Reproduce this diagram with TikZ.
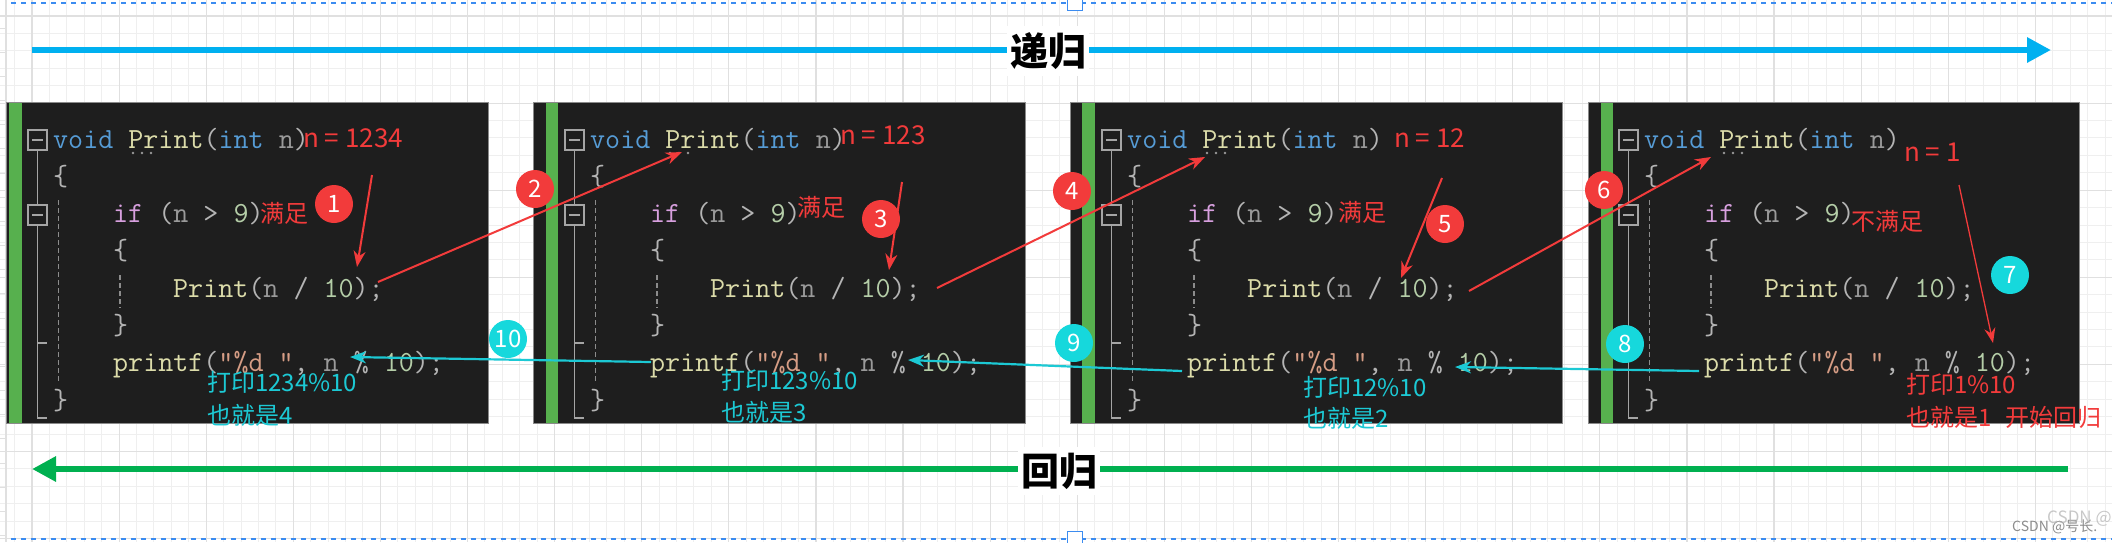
\documentclass[tikz,border=0pt]{standalone}
\usepackage{fontspec}
\newfontfamily\cjk{Noto Sans CJK SC}
\usetikzlibrary{arrows.meta,calc}
\definecolor{vsbg}{HTML}{1E1E1E}
\definecolor{paneledge}{HTML}{8A8A8A}
\definecolor{vsgreen}{HTML}{57B04E}
\definecolor{foldgray}{HTML}{A5A5A5}
\definecolor{guidegray}{HTML}{8C8C8C}
\definecolor{ckwc}{HTML}{569CD6}
\definecolor{cfnc}{HTML}{DCDCAA}
\definecolor{cpuc}{HTML}{B4B4B4}
\definecolor{cpac}{HTML}{9A9A9A}
\definecolor{cctc}{HTML}{D8A0DF}
\definecolor{cnuc}{HTML}{B5CEA8}
\definecolor{cstc}{HTML}{D69D85}
\definecolor{annred}{HTML}{F23B3B}
\definecolor{anncyan}{HTML}{1CC9D4}
\definecolor{circcyan}{HTML}{16D8DC}
\definecolor{arrblue}{HTML}{00B0F0}
\definecolor{arrgreen}{HTML}{00B050}
\definecolor{gridmin}{HTML}{EFEFEF}
\definecolor{gridmaj}{HTML}{E0E0E0}
\definecolor{selblue}{HTML}{3C8CF0}
\newcommand\ckw[1]{\textcolor{ckwc}{#1}}
\newcommand\cfn[1]{\textcolor{cfnc}{#1}}
\newcommand\cpu[1]{\textcolor{cpuc}{#1}}
\newcommand\cpa[1]{\textcolor{cpac}{#1}}
\newcommand\cct[1]{\textcolor{cctc}{#1}}
\newcommand\cnu[1]{\textcolor{cnuc}{#1}}
\newcommand\cst[1]{\textcolor{cstc}{#1}}
\tikzset{
  panelbox/.style={fill=vsbg, draw=paneledge, line width=1pt, inner sep=0pt, anchor=north west},
  codeline/.style={anchor=base west, inner sep=0pt, font=\ttfamily\fontsize{29.2}{30}\selectfont},
  fold/.style={draw=foldgray, line width=1.5pt},
  guide/.style={draw=guidegray, line width=1.2pt, dash pattern=on 5pt off 3pt},
  ann/.style={anchor=west, inner sep=0pt, font=\cjk\fontsize{24}{26}\selectfont},
  nval/.style={anchor=west, inner sep=0pt, font=\cjk\fontsize{26}{28}\selectfont, text=annred},
  redcirc/.style={circle, fill=annred, minimum size=38pt, inner sep=0pt, text=white, font=\cjk\fontsize{24}{24}\selectfont},
  cyancirc/.style={circle, fill=circcyan, minimum size=38pt, inner sep=0pt, text=white, font=\cjk\fontsize{24}{24}\selectfont},
  redarr/.style={draw=annred, line width=2pt, -{Stealth[length=16pt,width=12pt,inset=5pt]}},
  redthin/.style={draw=annred, line width=1.3pt, -{Stealth[length=15pt,width=11pt,inset=5pt]}},
  cyanarr/.style={draw=anncyan, line width=2.2pt, -{Stealth[length=16pt,width=12pt,inset=5pt]}},
  bigarrow/.style={line width=6pt, -{Triangle[length=24pt,width=24pt]}},
  biglabel/.style={fill=white, inner xsep=3pt, inner ysep=6pt, font=\cjk\bfseries\fontsize{38}{40}\selectfont, text=black},
  gridminor/.style={draw=gridmin, line width=1pt},
  gridmajor/.style={draw=gridmaj, line width=1.2pt},
  seldash/.style={draw=selblue, line width=1.5pt, dash pattern=on 5pt off 5pt},
  handle/.style={draw=selblue, fill=white, line width=1pt, minimum width=15pt, minimum height=13pt, inner sep=0pt},
}
% #1 id, #2 left, #3 right, #4 green bar left, #5 code x
\newcommand\codepanel[5]{%
  \node[panelbox, minimum width=#3pt-#2pt, minimum height=321pt] (#1) at (#2,102) {};
  \fill[vsgreen] (#4,102.5) rectangle ({#4+12.5},422.5);
  \draw[fold] ({#5-25},130) rectangle ({#5-6},150);
  \draw[fold] ({#5-21},140) -- ({#5-10},140);
  \draw[fold] ({#5-15.5},150) -- ({#5-15.5},205);
  \draw[fold] ({#5-25},205) rectangle ({#5-6},225);
  \draw[fold] ({#5-21},215) -- ({#5-10},215);
  \draw[fold] ({#5-15.5},225) -- ({#5-15.5},418) -- ({#5-6},418);
  \draw[fold] ({#5-15.5},343) -- ({#5-6},343);
  \draw[guide] ({#5+5.5},200) -- ({#5+5.5},382);
  \draw[guide] ({#5+67},275) -- ({#5+67},308);
  \foreach \d in {80,89,98} {\fill[cpac] ({#5+\d},153) circle (1.4pt);}
  \node[codeline] (#1l1) at (#5,148) {\ckw{void} \cfn{Print}\cpu{(}\ckw{int} \cpa{n}\cpu{)}};
  \node[codeline] (#1l2) at (#5,185.3) {\cpu{\{}};
  \node[codeline] (#1l3) at ({#5+60},222.6) {\cct{if} \cpu{(}\cpa{n} \cpu{>} \cnu{9}\cpu{)}};
  \node[codeline] (#1l4) at ({#5+60},259.9) {\cpu{\{}};
  \node[codeline] (#1l5) at ({#5+120},297.2) {\cfn{Print}\cpu{(}\cpa{n} \cpu{/} \cnu{10}\cpu{);}};
  \node[codeline] (#1l6) at ({#5+60},334.5) {\cpu{\}}};
  \node[codeline] (#1l7) at ({#5+60},371.8) {\cfn{printf}\cpu{(}\cst{"\%d "}\cpu{,} \cpa{n} \cpu{\%} \cnu{10}\cpu{);}};
  \node[codeline] (#1l8) at (#5,409.1) {\cpu{\}}};
}
\begin{document}
\begin{tikzpicture}[x=1pt,y=-1pt]
\useasboundingbox (0,0) rectangle (2112,542);
\clip (0,0) rectangle (2112,542);
\fill[white] (0,0) rectangle (2112,542);
% grid
\foreach \i in {-2,...,121} {\draw[gridminor] ({32+17.42*\i},0) -- ++(0,542);}
\foreach \j in {-1,...,31} {\draw[gridminor] (0,{16+17.42*\j}) -- ++(2112,0);}
\foreach \i in {0,...,24} {\draw[gridmajor] ({32+87.1*\i},0) -- ++(0,542);}
\foreach \j in {0,...,6} {\draw[gridmajor] (0,{16+87.1*\j}) -- ++(2112,0);}
% canvas edge
\draw[draw=gridmaj, line width=1.2pt] (6,0) -- (6,542);
\foreach \k in {0,...,21} {\draw[draw=gridmaj, line width=1pt] (0,{28+24.17*\k}) -- (6,{28+24.17*\k});}
% selection outline
\draw[seldash] (11,3) -- (2112,3);
\draw[seldash] (11,539) -- (2112,539);
\node[handle] (htop) at (1075,4) {};
\node[handle] (hbot) at (1075,538) {};
% big arrows
\coordinate (bs) at (32,50); \coordinate (be) at (2051,50);
\draw[bigarrow, draw=arrblue, fill=arrblue] (bs) -- (be);
\node[biglabel] (lab1) at (1048,51) {递归};
\coordinate (gs) at (2068,469); \coordinate (ge) at (32,469);
\draw[bigarrow, draw=arrgreen, fill=arrgreen] (gs) -- (ge);
\node[biglabel] (lab2) at (1059,471) {回归};
% panels
\codepanel{pa}{6}{488}{9}{53}
\codepanel{pb}{533}{1025}{545.5}{590}
\codepanel{pc}{1070}{1562}{1082}{1127}
\codepanel{pd}{1588}{2079}{1600.5}{1644}
% annotations
\node[nval] (n1) at (303,138) {n = 1234};
\node[ann, text=annred] (s1) at (260,213) {满足};
\node[ann, text=anncyan] (t1a) at (207,382) {打印1234\%10};
\node[ann, text=anncyan] (t1b) at (207,415) {也就是4};
\node[nval] (n2) at (840,135) {n = 123};
\node[ann, text=annred] (s2) at (797,207) {满足};
\node[ann, text=anncyan] (t2a) at (721,380) {打印123\%10};
\node[ann, text=anncyan] (t2b) at (721,412) {也就是3};
\node[nval] (n3) at (1394,138) {n = 12};
\node[ann, text=annred] (s3) at (1338,212) {满足};
\node[ann, text=anncyan] (t3a) at (1303,387) {打印12\%10};
\node[ann, text=anncyan] (t3b) at (1303,418) {也就是2};
\node[nval] (n4) at (1904,152) {n = 1};
\node[ann, text=annred] (s4) at (1851,221) {不满足};
\node[ann, text=annred] (t4a) at (1906,384) {打印1\%10};
\node[ann, text=annred] (t4b) at (1906,417) {也就是1\hspace{14pt}开始回归};
% arrows
\coordinate (r1s) at (372,175); \coordinate (r1e) at (357,267);
\coordinate (r2s) at (378,282); \coordinate (r2e) at (682,152);
\coordinate (r3s) at (902,182); \coordinate (r3e) at (889,270);
\coordinate (r4s) at (937,288); \coordinate (r4e) at (1205,157);
\coordinate (r5s) at (1442,178); \coordinate (r5e) at (1401,278);
\coordinate (r6s) at (1469,291); \coordinate (r6e) at (1711,157);
\coordinate (r7s) at (1959,185); \coordinate (r7e) at (1993,343);
\coordinate (c8s) at (1699,371); \coordinate (c8e) at (1455,367);
\coordinate (c9s) at (1182,371); \coordinate (c9e) at (908,360);
\coordinate (c10s) at (651,362); \coordinate (c10e) at (350,357);
\draw[redarr] (r1s) -- (r1e);
\draw[redarr] (r2s) -- (r2e);
\draw[redarr] (r3s) -- (r3e);
\draw[redarr] (r4s) -- (r4e);
\draw[redarr] (r5s) -- (r5e);
\draw[redarr] (r6s) -- (r6e);
\draw[redthin] (r7s) -- (r7e);
\draw[cyanarr] (c8s) -- (c8e);
\draw[cyanarr] (c9s) -- (c9e);
\draw[cyanarr] (c10s) -- (c10e);
% step circles
\node[redcirc] (k1) at (334,204) {1};
\node[redcirc] (k2) at (535,189) {2};
\node[redcirc] (k3) at (881,219) {3};
\node[redcirc] (k4) at (1072,191) {4};
\node[redcirc] (k5) at (1445,224) {5};
\node[redcirc] (k6) at (1604,190) {6};
\node[cyancirc] (k7) at (2010,275) {7};
\node[cyancirc] (k8) at (1625,344) {8};
\node[cyancirc] (k9) at (1074,343) {9};
\node[cyancirc] (k10) at (508,339) {10};
% watermark
\node[anchor=west, inner sep=0pt, text=black!45, font=\cjk\fontsize{14}{16}\selectfont] (wm1) at (2012,527) {CSDN @号长.};
\node[anchor=west, inner sep=0pt, text=black!30, opacity=0.7, font=\cjk\fontsize{17}{19}\selectfont] (wm2) at (2047,519) {CSDN @};
\end{tikzpicture}
\end{document}
